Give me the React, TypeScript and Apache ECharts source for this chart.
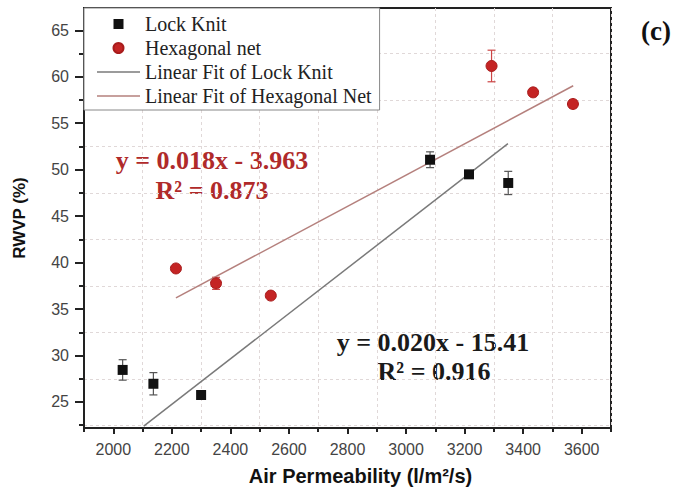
import React, { useEffect, useRef } from "react";
import * as echarts from "echarts";

// Axis ticks
const xMajorTicks = [2000, 2200, 2400, 2600, 2800, 3000, 3200, 3400, 3600];
const xMinorTicks = [1900, 2100, 2300, 2500, 2700, 2900, 3100, 3300, 3500, 3700];
const yMajorTicks = [25, 30, 35, 40, 45, 50, 55, 60, 65];
const yMinorTicks = [22.5, 27.5, 32.5, 37.5, 42.5, 47.5, 52.5, 57.5, 62.5];

// Lock Knit data
const lockKnitX = [2032, 2137, 2300, 3082, 3215, 3349];
const lockKnitY = [28.45, 26.96, 25.75, 51.07, 49.5, 48.57];
const lockKnitErr = [1.1, 1.2, 0.3, 0.85, 0.3, 1.25];

// Hexagonal net data
const hexX = [2214, 2351, 2538, 3292, 3434, 3570];
const hexY = [39.37, 37.77, 36.45, 61.16, 58.32, 57.07];
const hexErr = [0.3, 0.65, 0.3, 1.7, 0.3, 0.4];

// Linear fit endpoints (as drawn)
const lockFitX = [2104, 3348];
const lockFitY = [22.4, 52.8];
const hexFitX = [2214, 3571];
const hexFitY = [36.2, 59.03];

const SERIF = '"Liberation Serif", "Times New Roman", serif';
const SANS = '"Liberation Sans", Arial, sans-serif';
const RED = "#c42424";

const LINE_ICON = "path://M0,0h86v3h-86z";
const legendData = [
  { name: "Lock Knit", icon: "path://M0,0h10v10h-10z" },
  { name: "Hexagonal net", icon: "circle" },
  { name: "Linear Fit of Lock Knit", icon: LINE_ICON },
  { name: "Linear Fit of Hexagonal Net", icon: LINE_ICON },
];

function errorSeries(xs: number[], ys: number[], errs: number[], color: string) {
  return {
    type: "custom",
    silent: true,
    z: 1,
    data: xs.map((x, i) => [x, ys[i] - errs[i], ys[i] + errs[i]]),
    encode: { x: 0, y: [1, 2] },
    renderItem: (params: any, api: any) => {
      const x = api.value(0);
      const lo = api.coord([x, api.value(1)]);
      const hi = api.coord([x, api.value(2)]);
      const w = 4;
      const style = { stroke: color, lineWidth: 1.2 };
      return {
        type: "group",
        children: [
          { type: "line", shape: { x1: lo[0], y1: lo[1], x2: hi[0], y2: hi[1] }, style },
          { type: "line", shape: { x1: lo[0] - w, y1: lo[1], x2: lo[0] + w, y2: lo[1] }, style },
          { type: "line", shape: { x1: hi[0] - w, y1: hi[1], x2: hi[0] + w, y2: hi[1] }, style },
        ],
      };
    },
  };
}

export default function App() {
  const ref = useRef<HTMLDivElement>(null);
  useEffect(() => {
    if (!ref.current) return;
    const chart = echarts.init(ref.current, null, { renderer: "svg" });
    const axisLineStyle = { color: "#222", width: 2 };
    const option: any = {
      animation: false,
      backgroundColor: "#fff",
      grid: {
        left: 84,
        right: 63,
        top: 8,
        bottom: 59,
        show: true,
        borderColor: "#222",
        borderWidth: 2,
        backgroundColor: "transparent",
      },
      xAxis: [
        {
          type: "value",
          position: "bottom",
          min: 1900,
          max: 3700,
          name: "Air Permeability (l/m²/s)",
          nameLocation: "middle",
          nameGap: 38,
          nameTextStyle: {
            fontFamily: SANS,
            fontWeight: "bold",
            fontSize: 20,
            color: "#111",
            padding: [0, 0, 0, 26],
          },
          axisLine: { show: true, lineStyle: axisLineStyle },
          axisTick: { show: true, length: 6, customValues: xMajorTicks, lineStyle: axisLineStyle },
          axisLabel: {
            customValues: xMajorTicks,
            formatter: (v: number) => String(v),
            margin: 13,
            color: "#444",
            fontSize: 16,
            fontFamily: SANS,
          },
          splitLine: { show: false },
        },
        {
          type: "value",
          position: "bottom",
          min: 1900,
          max: 3700,
          axisLine: { show: false },
          axisTick: { show: true, length: 4, customValues: xMinorTicks, lineStyle: axisLineStyle },
          axisLabel: { show: false },
          splitLine: { show: true, lineStyle: { color: "#e0d8d8", type: [3, 3], width: 1 } },
        },
      ],
      yAxis: [
        {
          type: "value",
          position: "left",
          min: 22.2,
          max: 67.4,
          name: "RWVP (%)",
          nameLocation: "middle",
          nameRotate: 90,
          nameGap: 56,
          nameTextStyle: {
            fontFamily: SANS,
            fontWeight: "bold",
            fontSize: 17,
            color: "#111",
          },
          axisLine: { show: true, lineStyle: axisLineStyle },
          axisTick: { show: true, length: 9, customValues: yMajorTicks, lineStyle: axisLineStyle },
          axisLabel: {
            customValues: yMajorTicks,
            margin: 15,
            color: "#444",
            fontSize: 16,
            fontFamily: SANS,
          },
          splitLine: { show: false },
        },
        {
          type: "value",
          position: "left",
          min: 22.2,
          max: 67.4,
          axisLine: { show: false },
          axisTick: { show: true, length: 5, customValues: yMinorTicks, lineStyle: axisLineStyle },
          axisLabel: { show: false },
          splitLine: { show: true, lineStyle: { color: "#e0d8d8", type: [3, 3], width: 1 } },
        },
      ],
      legend: {
        data: legendData,
        orient: "vertical",
        left: 84,
        top: 8,
        padding: [6, 8, 4, 13],
        itemWidth: 43,
        itemHeight: 10,
        itemGap: 4,
        symbolKeepAspect: true,
        backgroundColor: "#fff",
        borderColor: "#888",
        borderWidth: 1,
        borderRadius: 0,
        textStyle: { fontFamily: SERIF, fontSize: 20, color: "#222" },
        selectedMode: false,
      },
      series: [
        errorSeries(lockKnitX, lockKnitY, lockKnitErr, "#555"),
        errorSeries(hexX, hexY, hexErr, "#c44"),
        {
          name: "Linear Fit of Lock Knit",
          type: "line",
          data: lockFitX.map((x, i) => [x, lockFitY[i]]),
          symbol: "none",
          lineStyle: { color: "#7a7a7a", width: 1.5 },
          itemStyle: { color: "#7a7a7a" },
          z: 2,
        },
        {
          name: "Linear Fit of Hexagonal Net",
          type: "line",
          data: hexFitX.map((x, i) => [x, hexFitY[i]]),
          symbol: "none",
          lineStyle: { color: "#b5807d", width: 1.5 },
          itemStyle: { color: "#b5807d" },
          z: 2,
        },
        {
          name: "Lock Knit",
          type: "scatter",
          symbol: "rect",
          symbolSize: 10,
          data: lockKnitX.map((x, i) => [x, lockKnitY[i]]),
          itemStyle: { color: "#111", opacity: 1 },
          z: 3,
        },
        {
          name: "Hexagonal net",
          type: "scatter",
          symbol: "circle",
          symbolSize: 11,
          data: hexX.map((x, i) => [x, hexY[i]]),
          itemStyle: { color: RED, borderColor: "#a81c1c", borderWidth: 1, opacity: 1 },
          z: 3,
        },
      ],
      graphic: [
        {
          type: "text",
          x: 212,
          y: 160,
          style: {
            text: "y = 0.018x - 3.963",
            fill: "#b02a2a",
            font: `bold 26px ${SERIF}`,
            align: "center",
            verticalAlign: "middle",
          },
        },
        {
          type: "text",
          x: 212,
          y: 190,
          style: {
            text: "R² = 0.873",
            fill: "#b02a2a",
            font: `bold 26px ${SERIF}`,
            align: "center",
            verticalAlign: "middle",
          },
        },
        {
          type: "text",
          x: 433,
          y: 342,
          style: {
            text: "y = 0.020x - 15.41",
            fill: "#1a1a1a",
            font: `bold 26px ${SERIF}`,
            align: "center",
            verticalAlign: "middle",
          },
        },
        {
          type: "text",
          x: 434,
          y: 371,
          style: {
            text: "R² = 0.916",
            fill: "#1a1a1a",
            font: `bold 26px ${SERIF}`,
            align: "center",
            verticalAlign: "middle",
          },
        },
        {
          type: "text",
          x: 656,
          y: 31,
          style: {
            text: "(c)",
            fill: "#111",
            font: `bold 27px ${SERIF}`,
            align: "center",
            verticalAlign: "middle",
          },
        },
      ],
    };
    chart.setOption(option);
    return () => chart.dispose();
  }, []);
  return (
    <div
      ref={ref}
      style={{ position: "fixed", left: 0, top: 0, width: 674, height: 491, background: "#fff" }}
    />
  );
}
